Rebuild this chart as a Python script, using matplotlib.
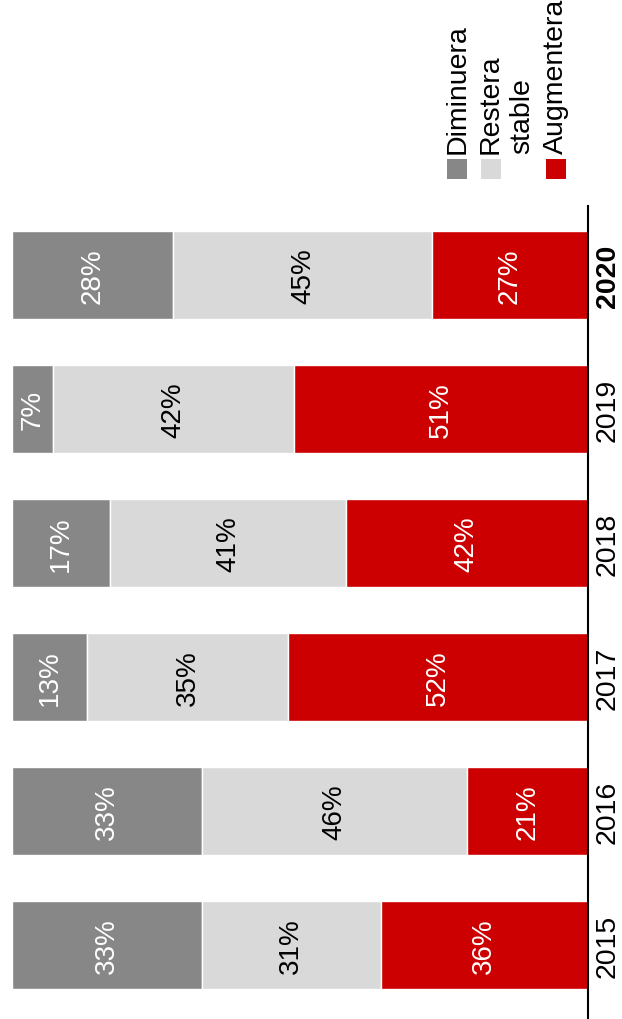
import matplotlib
matplotlib.use("Agg")
import matplotlib.pyplot as plt
from matplotlib.patches import Rectangle
import numpy as np

plt.rcParams['font.family'] = ['Liberation Sans', 'DejaVu Sans']

years = ["2015", "2016", "2017", "2018", "2019", "2020"]
series_names = ["Diminuera", "Restera stable", "Augmentera"]
diminuera = [33, 33, 13, 17, 7, 28]
restera = [31, 46, 35, 41, 42, 45]
augmentera = [36, 21, 52, 42, 51, 27]

colors = ["#878787", "#d9d9d9", "#cc0000"]
text_colors = ["white", "black", "white"]

W, H = 622, 1020
fig = plt.figure(figsize=(W / 100, H / 100), dpi=100)

# axes placement in pixels
left_px, right_px, top_px, bot_px = 12.3, 587.7, 207, 1020
ax = fig.add_axes([left_px / W, 1 - bot_px / H, (right_px - left_px) / W, (bot_px - top_px) / H])

y = np.arange(len(years))
bar_h = 0.655
lefts = np.zeros(len(years))
for vals, c, tc in zip([diminuera, restera, augmentera], colors, text_colors):
    vals = np.array(vals, dtype=float)
    ax.barh(y, vals, left=lefts, height=bar_h, color=c, edgecolor="white", linewidth=1.0)
    for yi, l, v in zip(y, lefts, vals):
        ax.text(l + v / 2, yi, f"{int(v)}%", rotation=90, ha="center", va="center",
                color=tc, fontsize=20)
    lefts += vals

ax.set_xlim(0, 100)
ax.set_ylim(-0.552, 5.515)
for s in ["top", "left", "bottom"]:
    ax.spines[s].set_visible(False)
ax.spines["right"].set_linewidth(1.5)
ax.spines["right"].set_color("black")
ax.set_xticks([])
ax.set_yticks([])

# year labels on the right side of the axis line
for yi, lab in zip(y, years):
    ax.text(1.035, yi, lab, transform=ax.get_yaxis_transform(), rotation=90,
            ha="center", va="center", fontsize=20.5,
            fontweight="bold" if lab == "2020" else "normal")

# legend (manual, rotated)
def px(x, yy):
    return x / W, 1 - yy / H

sq = 19.5
legend_items = [
    (447, colors[0], ["Diminuera"], [457.5]),
    (481, colors[1], ["Restera", "stable"], [491, 522]),
    (546, colors[2], ["Augmentera"], [556]),
]
for x0, c, labels, xs in legend_items:
    fx, fy = px(x0, 179.5)
    fig.patches.append(Rectangle((fx, fy), sq / W, sq / H, transform=fig.transFigure,
                                 facecolor=c, edgecolor="none"))
    for lab, xc in zip(labels, xs):
        tx, ty = px(xc, 153.5)
        fig.text(tx, ty, lab, rotation=90, ha="center", va="bottom", fontsize=20.5)

fig.savefig("out.png", dpi=100)
